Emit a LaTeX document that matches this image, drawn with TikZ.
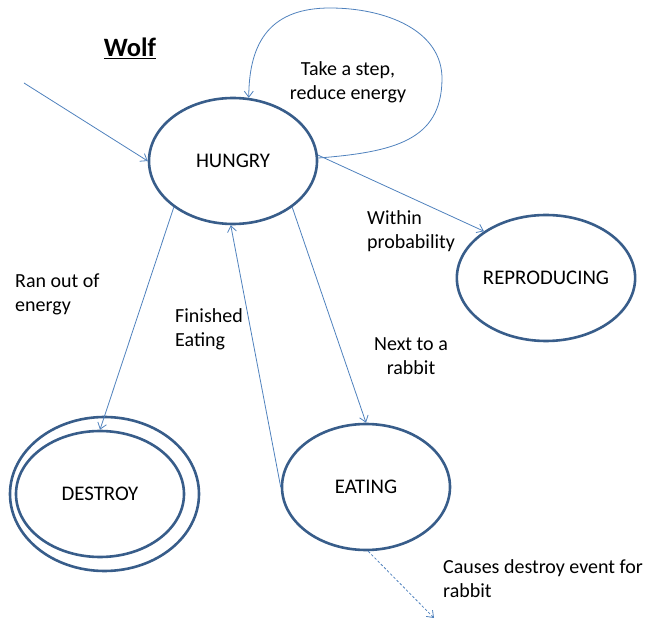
\documentclass[tikz,border=0pt]{standalone}
\usepackage{fontspec}
\setmainfont{Carlito}
\usetikzlibrary{arrows.meta,shapes.geometric}
\definecolor{stateline}{HTML}{385D8A}
\definecolor{arrowline}{HTML}{4F81BD}
\begin{document}
\begin{tikzpicture}[x=1pt,y=-1pt,
  state/.style={ellipse, draw=stateline, line width=2.6pt, minimum width=168pt, minimum height=126pt, inner sep=0pt, font=\fontsize{20.8}{24.5}\selectfont},
  lbl/.style={font=\fontsize{20}{24.5}\selectfont, inner sep=0pt},
  conn/.style={draw=arrowline, line width=0.8pt, -{Straight Barb[length=6pt,width=9pt]}},
  dconn/.style={conn, dash pattern=on 2.5pt off 2pt}]
\useasboundingbox (0,0) rectangle (657,620);

\node[state] (hungry) at (233,161) {HUNGRY};
\node[state] (reproducing) at (546,278) {REPRODUCING};
\node[state] (eating) at (366,487) {EATING};
\node[state] (destroy) at (100,494) {DESTROY};
\node[state, minimum width=189pt, minimum height=154pt] (destroyring) at (104.5,494) {};

\node[font=\fontsize{26.5}{30}\selectfont\bfseries, inner sep=0pt, anchor=base] (title) at (130,57) {\underline{Wolf}};

\coordinate (start) at (24,83);
\coordinate (rabbitend) at (434,618);

\draw[conn] (start) -- (hungry.180);
\draw[conn] (hungry.2) .. controls (395,152) and (441,140) .. (442,80)
  .. controls (443,30) and (385,8) .. (330,8)
  .. controls (272,8) and (249,40) .. (hungry.76);
\draw[conn] (hungry.4) -- (reproducing.143);
\draw[conn] (hungry.218) -- (destroy.90);
\draw[conn] (eating.180) -- (hungry.268);
\draw[conn] (hungry.-38) -- (eating.90);
\draw[dconn] (eating.-88) -- (rabbitend);

\node[lbl, align=center, anchor=base] (l1) at (348,100) {Take a step,\\reduce energy};
\node[lbl, align=left, anchor=base west] (l2) at (367,249) {Within\\probability};
\node[lbl, align=center, anchor=base] (l3) at (411,375) {Next to a\\rabbit};
\node[lbl, align=left, anchor=base west] (l4) at (15,312) {Ran out of\\energy};
\node[lbl, align=left, anchor=base west] (l5) at (175,347) {Finished\\Eating};
\node[lbl, align=left, anchor=base west] (l6) at (443,598) {Causes destroy event for\\rabbit};
\end{tikzpicture}
\end{document}
